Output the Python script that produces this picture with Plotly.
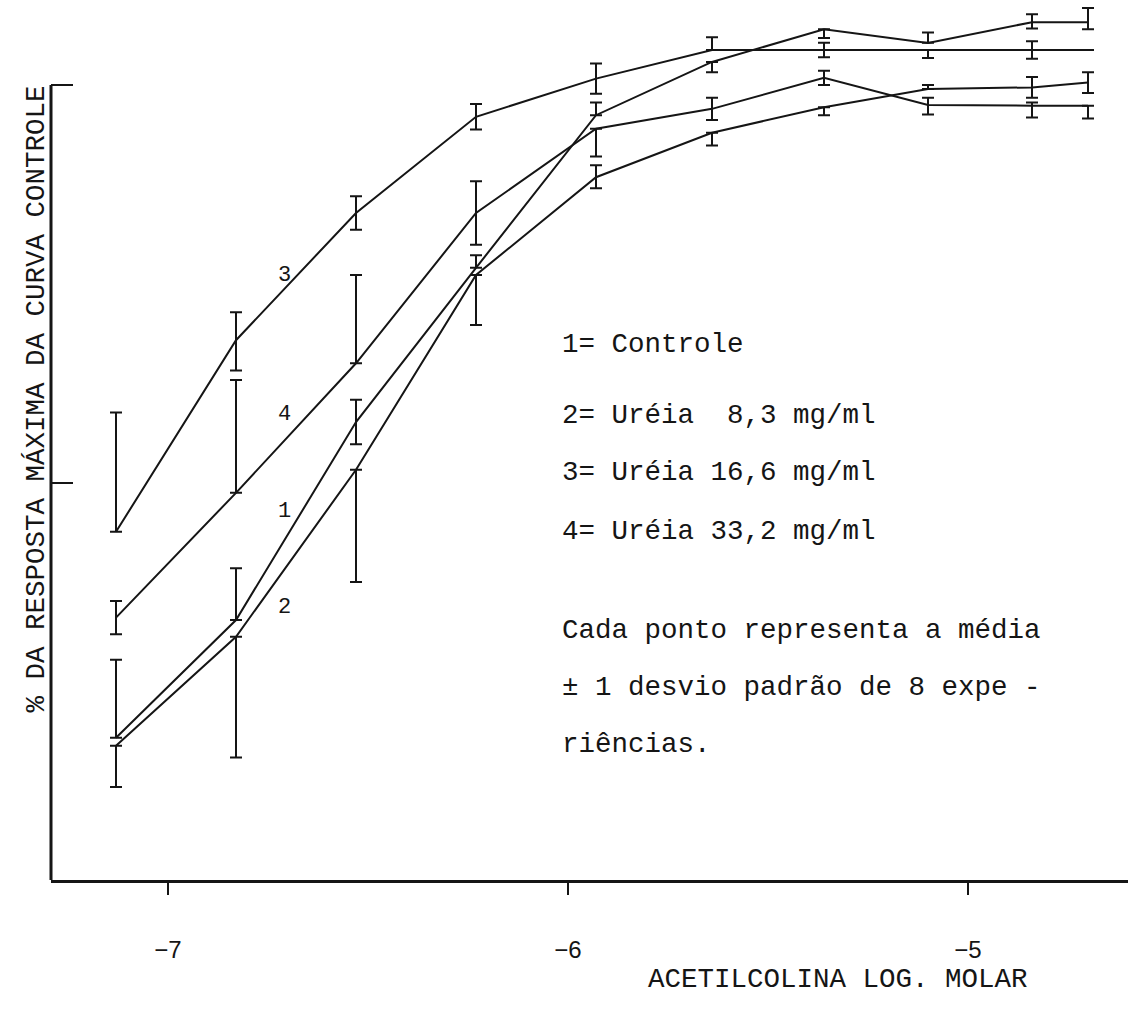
import plotly.graph_objects as go

# ---- data ----
log_conc = [-7.13, -6.83, -6.53, -6.23, -5.93, -5.64, -5.36, -5.10, -4.84, -4.70]

c1_controle = [17.9, 32.7, 57.6, 77.0, 96.2, 102.9, 107.0, 105.3, 107.9, 107.9]
c1_plus = [9.8, 6.5, 2.8, 1.6, 1.6, 0, 0, 1.3, 1.0, 1.8]
c1_minus = [0, 0, 2.8, 0, 0, 1.3, 1.1, 0, 0.8, 0.9]

c2_ureia_8 = [16.9, 30.6, 51.6, 76.1, 88.4, 94.0, 97.2, 99.5, 99.7, 100.3]
c2_plus = [0, 0, 0, 0, 1.5, 0, 0, 0.5, 1.3, 1.3]
c2_minus = [5.2, 15.2, 14.1, 6.3, 1.4, 1.6, 1.0, 0, 1.3, 1.3]

c3_ureia_16 = [43.8, 67.9, 83.9, 96.0, 100.8, 104.4, 104.4, 104.4, 104.4, 104.4]
c3_plus = [15.0, 3.5, 2.1, 1.6, 1.9, 1.6, 0.9, 0, 1.1, 0]
c3_minus = [0, 3.8, 2.1, 1.6, 1.9, 0, 0.9, 1.0, 1.1, 0]

c4_ureia_33 = [33.0, 48.7, 65.0, 83.9, 94.5, 97.0, 100.9, 97.5, 97.4, 97.4]
c4_plus = [2.1, 14.2, 11.1, 4.0, 0, 1.4, 0.9, 0.9, 0.4, 0]
c4_minus = [2.1, 0, 0, 4.0, 3.5, 1.4, 0.9, 1.2, 1.5, 1.6]

x_ticks = [-7, -6, -5]
x_ticklabels = ["\u22127", "\u22126", "\u22125"]
y_ticks = [50, 100]

curve_labels = ["3", "4", "1", "2"]
curve_label_x = [-6.71, -6.71, -6.71, -6.71]
curve_label_y = [76.1, 58.5, 46.3, 34.3]

legend_lines = [
    "1= Controle",
    "2= Uréia  8,3 mg/ml",
    "3= Uréia 16,6 mg/ml",
    "4= Uréia 33,2 mg/ml",
    "Cada ponto representa a média",
    "± 1 desvio padrão de 8 expe -",
    "riências.",
]
legend_y = [67.3, 58.4, 51.2, 43.8, 31.4, 24.2, 17.0]

INK = "#151515"
MONO = "Liberation Mono, Courier New, monospace"
TXT = 27.5

fig = go.Figure()
series = [
    ("1= Controle", c1_controle, c1_plus, c1_minus),
    ("2= Uréia 8,3 mg/ml", c2_ureia_8, c2_plus, c2_minus),
    ("3= Uréia 16,6 mg/ml", c3_ureia_16, c3_plus, c3_minus),
    ("4= Uréia 33,2 mg/ml", c4_ureia_33, c4_plus, c4_minus),
]
for name, ys, plus, minus in series:
    fig.add_trace(go.Scatter(
        x=log_conc, y=ys, name=name, mode="lines",
        line=dict(color=INK, width=2),
        error_y=dict(type="data", symmetric=False, array=plus, arrayminus=minus,
                     color=INK, thickness=2, width=6),
        showlegend=False,
    ))

x_left = -7 - (168 - 51) / 400.0
x_right = -5 + (1128 - 968) / 400.0
PX_PER_PCT = 7.95

fig.update_layout(
    width=1128, height=1012,
    margin=dict(l=51, r=0, t=0, b=132),
    paper_bgcolor="white", plot_bgcolor="white",
    showlegend=False,
    xaxis=dict(
        range=[x_left, x_right],
        tickvals=x_ticks, ticktext=x_ticklabels,
        ticks="outside", ticklen=12, tickwidth=2, tickcolor=INK,
        showline=True, linecolor=INK, linewidth=3,
        showgrid=False, zeroline=False,
        tickfont=dict(family="Liberation Sans, Arial, sans-serif", size=24, color=INK),
        ticklabelstandoff=34,
    ),
    yaxis=dict(
        range=[0, 880 / PX_PER_PCT],
        tickvals=y_ticks, showticklabels=False,
        ticks="inside", ticklen=22, tickwidth=2, tickcolor=INK,
        showline=False, showgrid=False, zeroline=False,
    ),
)

# y-axis line only up to the 100 tick
fig.add_shape(type="line", xref="paper", yref="y", x0=0, x1=0, y0=0, y1=100,
              line=dict(color=INK, width=3))

for t, xv, yv in zip(curve_labels, curve_label_x, curve_label_y):
    fig.add_annotation(x=xv, y=yv, text=t, showarrow=False,
                       font=dict(family=MONO, size=22, color=INK))

for t, yv in zip(legend_lines, legend_y):
    fig.add_annotation(x=-6.02, y=yv, text=t, showarrow=False, xanchor="left",
                       font=dict(family=MONO, size=TXT, color=INK))

# y-axis title
fig.add_annotation(xref="paper", x=(18 - 51) / 1077.0, yref="y",
                   y=(880 - 399) / PX_PER_PCT,
                   text="% DA RESPOSTA MÁXIMA DA CURVA CONTROLE", textangle=-90,
                   showarrow=False, font=dict(family=MONO, size=TXT, color=INK))

# x-axis title
fig.add_annotation(xref="x", yref="paper", x=-5.325, y=-(997 - 880) / 880.0,
                   text="ACETILCOLINA LOG. MOLAR", showarrow=False,
                   font=dict(family=MONO, size=TXT, color=INK))

fig.write_html("out.html")
